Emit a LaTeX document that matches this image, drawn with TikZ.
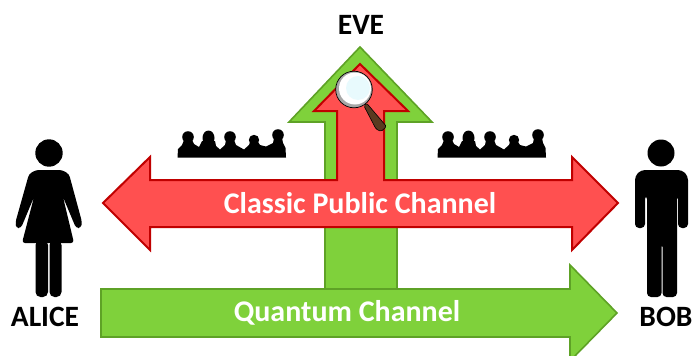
\documentclass[tikz,border=0pt]{standalone}
\usepackage{fontspec}
\setmainfont{Carlito}
\definecolor{redfill}{HTML}{FF5050}
\definecolor{redline}{HTML}{C00000}
\definecolor{greenfill}{HTML}{7FD13B}
\definecolor{greenline}{HTML}{5EA226}
\definecolor{handlebrown}{HTML}{5A3A20}
\definecolor{lensblue}{HTML}{E8FAFD}
\tikzset{
    redarrow/.style={fill=redfill, draw=redline, line width=2pt, line join=miter},
    greenarrow/.style={fill=greenfill, draw=greenline, line width=1.6pt, line join=miter},
    figure/.style={fill=black, draw=none},
    name label/.style={font=\bfseries\fontsize{29.5}{30}\selectfont, text=black, inner sep=0pt},
    channel label/.style={font=\bfseries\fontsize{30}{30}\selectfont, text=white, inner sep=0pt}
}
% the crowd: shoulders as one outline, then the heads
\newcommand{\crowdgroup}[1]{
    \begin{scope}[xshift=#1]
        \fill[black] (177.5,157.5) -- (178,149) -- (182,145) -- (184,140) -- (192,140) -- (194,144) -- (199,147) -- (202,141) -- (215,141) -- (216,146) -- (220,149.5) -- (225,145) -- (226,140) -- (234,140) -- (236,145) -- (244,149.5) -- (249,145) -- (250,142) -- (258,142) -- (260,145) -- (266,146.5) -- (273,143) -- (274,138) -- (282,138) -- (283,143) -- (285.5,148) -- (286,157.5) -- cycle;
        \fill[black] (188,137) circle (5.8);
        \fill[black] (208.5,138) ellipse (6 and 7.5);
        \fill[black] (230,137) circle (5.8);
        \fill[black] (254,140) circle (5.2);
        \fill[black] (278,135) circle (5.8);
    \end{scope}
}
\begin{document}
\begin{tikzpicture}[x=1pt, y=-1pt]
    \useasboundingbox (0,0) rectangle (694,356);

    % Green arrow going up
    \draw[greenarrow] (360,47) -- (432,122) -- (397,122) -- (397,295) -- (325,295) -- (325,122) -- (289,122) -- cycle;

    % Quantum channel
    \draw[greenarrow] (101,289) -- (570,289) -- (570,265) -- (617,313) -- (570,361) -- (570,337) -- (101,337) -- cycle;
    \node[channel label] (quantum) at (347,313) {Quantum Channel};

    % Red arrow going up and classic channel
    \draw[redarrow] (360,64) -- (408,111) -- (384,111) -- (384,180) -- (572,180) -- (572,157) -- (618,203) -- (572,250) -- (572,227) -- (150,227) -- (150,250) -- (103,203) -- (150,157) -- (150,180) -- (337,180) -- (337,111) -- (314,111) -- cycle;
    \node[channel label] (classic) at (360,203) {Classic Public Channel};

    % Magnifying glass
    \draw[fill=handlebrown, draw=black, line width=.6pt, rounded corners=1.5pt] (366.5,103) -- (364,106) -- (376,129) -- (381,131.5) -- (386.5,126.5) -- cycle;
    \draw[fill=gray!70, draw=black, line width=.7pt] (354,89.5) circle (18.3);
    \fill[white] (355,88.5) circle (16);
    \fill[lensblue] (358,88) circle (12);

    % Crowds
    \crowdgroup{0pt}
    \crowdgroup{260pt}

    % Alice
    \fill[figure] (49,153) circle (13.7);
    \fill[figure, rounded corners=3pt] (36,170) -- (29,174) -- (15.5,222) -- (16,228) -- (21,228) -- (34,197) -- (22,243) -- (74,243) -- (63,197) -- (76,228) -- (81,228) -- (82,222) -- (69,174) -- (62,170) -- cycle;
    \fill[figure, rounded corners=5pt] (35.5,240) -- (48,240) -- (48,297) -- (35.5,297) -- cycle;
    \fill[figure, rounded corners=5pt] (49.5,240) -- (61.5,240) -- (61.5,297) -- (49.5,297) -- cycle;
    \node[name label] (alice) at (45,317) {ALICE};

    % Bob
    \fill[figure] (661,153) circle (13.5);
    \fill[figure, rounded corners=4pt] (641,170) -- (682,170) -- (688,176) -- (688,228) -- (678,228) -- (678,195) -- (677,195) -- (677,297) -- (662.5,297) -- (662.5,243) -- (661.5,243) -- (661.5,297) -- (647,297) -- (647,195) -- (645,195) -- (645,228) -- (635,228) -- (635,176) -- cycle;
    \node[name label] (bob) at (666,317) {BOB};

    % Eve
    \node[name label] (eve) at (361,25) {EVE};
\end{tikzpicture}
\end{document}
